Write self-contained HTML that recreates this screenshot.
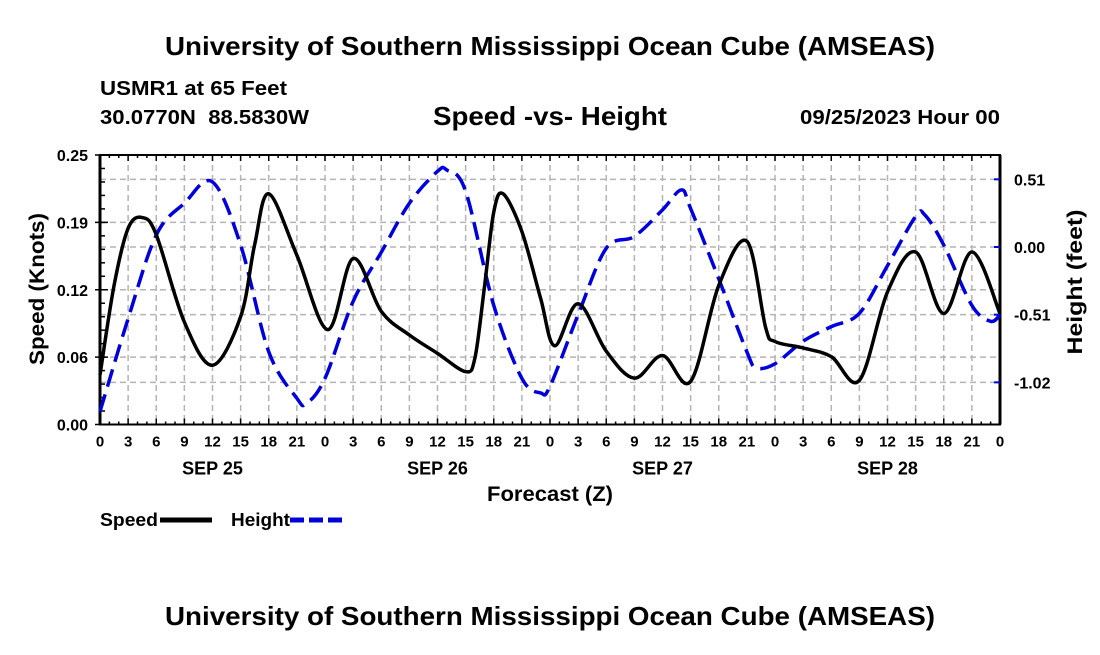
<!DOCTYPE html>
<html><head><meta charset="utf-8"><style>
body{margin:0;background:#fff;}
svg text{font-family:"Liberation Sans",Arial,sans-serif;font-weight:bold;fill:#000;}
</style></head><body>
<svg id="chart" width="1100" height="650" xmlns="http://www.w3.org/2000/svg">
<text x="165" y="55" font-size="26" textLength="770" lengthAdjust="spacingAndGlyphs">University of Southern Mississippi Ocean Cube (AMSEAS)</text>
<text x="100" y="95" font-size="20" textLength="187" lengthAdjust="spacingAndGlyphs">USMR1 at 65 Feet</text>
<text x="100" y="124" font-size="20" textLength="209" lengthAdjust="spacingAndGlyphs" xml:space="preserve">30.0770N  88.5830W</text>
<text x="433" y="125" font-size="26" textLength="234" lengthAdjust="spacingAndGlyphs">Speed -vs- Height</text>
<text x="800" y="124" font-size="20" textLength="200" lengthAdjust="spacingAndGlyphs">09/25/2023 Hour 00</text>
<g id="grid"></g><g id="axes"></g><g id="series"></g>
<text x="487" y="501" font-size="21" textLength="126" lengthAdjust="spacingAndGlyphs">Forecast (Z)</text>
<text transform="translate(44,289) rotate(-90)" font-size="21" text-anchor="middle" textLength="152" lengthAdjust="spacingAndGlyphs">Speed (Knots)</text>
<text transform="translate(1082,282) rotate(-90)" font-size="21" text-anchor="middle" textLength="145" lengthAdjust="spacingAndGlyphs">Height (feet)</text>
<g><text x="100" y="526" font-size="18" textLength="58" lengthAdjust="spacingAndGlyphs">Speed</text><line x1="160" y1="520" x2="212" y2="520" stroke="#000" stroke-width="5"/></g>
<g><text x="231" y="526" font-size="18" textLength="59" lengthAdjust="spacingAndGlyphs">Height</text><line x1="290" y1="520" x2="342" y2="520" stroke="#0000dd" stroke-width="5" stroke-dasharray="14,5"/></g>
<text x="165" y="625" font-size="26" textLength="770" lengthAdjust="spacingAndGlyphs">University of Southern Mississippi Ocean Cube (AMSEAS)</text>
</svg>
<script>
const speedHours=[0,1.5,3,4.5,6,9,12,15,16.5,18,21,24.3,27,30,33,36,39,40,41,42,43,45,47,48.5,51,54,57,60,63,66,69,71,72,75,78,81,84,87,90,93,96];
const speedValues=[0.046,0.129,0.182,0.192,0.176,0.095,0.055,0.10,0.167,0.214,0.157,0.088,0.154,0.105,0.083,0.066,0.049,0.062,0.127,0.197,0.214,0.179,0.117,0.073,0.112,0.068,0.043,0.064,0.040,0.129,0.170,0.09,0.077,0.071,0.063,0.041,0.123,0.160,0.103,0.160,0.103];
const heightHours=[0,3,6,9,12,15,18,21,22,24,27,30,33,36,37,39,42,45,47,48,51,54,57,60,62,63,66,69,70,72,75,78,81,84,87,88,90,93,95,96];
const heightValues=[-1.24,-0.54,0.09,0.33,0.49,0.015,-0.79,-1.14,-1.18,-0.99,-0.41,-0.04,0.33,0.57,0.58,0.42,-0.44,-0.99,-1.10,-1.05,-0.51,-0.01,0.08,0.28,0.43,0.29,-0.24,-0.79,-0.91,-0.88,-0.71,-0.60,-0.50,-0.14,0.23,0.24,0.015,-0.44,-0.56,-0.51];
const leftTicks=[0,0.0625,0.125,0.1875,0.25];
const leftTickLabels=["0.00","0.06","0.12","0.19","0.25"];
const rightTicks=[0.51,0,-0.51,-1.02];
const rightTickLabels=["0.51","0.00","-0.51","-1.02"];
const dayLabels=["SEP 25","SEP 26","SEP 27","SEP 28"];
const X0=100,X1=1000,YT=155,YB=424.5;
const xs=h=>X0+h*(X1-X0)/96;
const ys=v=>YB-v*(YB-YT)/0.25;
const yh=v=>247-v*132.7;
const NS='http://www.w3.org/2000/svg';
function mk(tag,parent,attrs){const e=document.createElementNS(NS,tag);for(const k in attrs)e.setAttribute(k,attrs[k]);document.getElementById(parent).appendChild(e);return e;}
for(let h=3;h<96;h+=3){const e=mk('line','grid',{x1:xs(h),x2:xs(h),y1:YT,y2:YB,stroke:'#b4b4b4','stroke-width':1.5,'stroke-dasharray':'6,4'});

}
leftTicks.slice(1,-1).forEach(v=>{const e=mk('line','grid',{x1:X0,x2:X1,y1:ys(v),y2:ys(v),stroke:'#b4b4b4','stroke-width':1.5,'stroke-dasharray':'6,4'});

});
rightTicks.forEach(v=>{const e=mk('line','grid',{x1:X0,x2:X1,y1:yh(v),y2:yh(v),stroke:'#b4b4b4','stroke-width':1.5,'stroke-dasharray':'6,4'});

});
const frame=mk('rect','axes',{x:X0,y:YT,width:X1-X0,height:YB-YT,fill:'none',stroke:'#000','stroke-width':2});


mk('line','axes',{x1:X0,x2:X0,y1:YT,y2:YB,stroke:'#000','stroke-width':3});
mk('line','axes',{x1:X1,x2:X1,y1:YT,y2:YB,stroke:'#000','stroke-width':3});
for(let h=0;h<=96;h++){const big=h%3==0;
mk('line','axes',{x1:xs(h),x2:xs(h),y1:YB,y2:YB-(big?6:3),stroke:'#000','stroke-width':1.5});
mk('line','axes',{x1:xs(h),x2:xs(h),y1:YT,y2:YT+(big?6:3),stroke:'#000','stroke-width':1.5});
if(big){const t=mk('text','axes',{x:xs(h),y:YB+22,'font-size':15,'text-anchor':'middle'});t.textContent=String(h%24);

}}
dayLabels.forEach((d,i)=>{const t=mk('text','axes',{x:xs(i*24+12),y:YB+50,'font-size':18,'text-anchor':'middle'});t.textContent=d;

});
for(let v=0;v<=0.25001;v+=0.0125){mk('line','axes',{x1:X0,x2:X0+5,y1:ys(v),y2:ys(v),stroke:'#000','stroke-width':1.5});}
leftTicks.forEach((v,i)=>{mk('line','axes',{x1:X0-5,x2:X0+8,y1:ys(v),y2:ys(v),stroke:'#000','stroke-width':1.5});
const t=mk('text','axes',{x:X0-12,y:ys(v)+6,'font-size':16,'text-anchor':'end'});t.textContent=leftTickLabels[i];

});
rightTicks.forEach((v,i)=>{mk('line','axes',{x1:X1-6,x2:X1,y1:yh(v),y2:yh(v),stroke:'#0000dd','stroke-width':2});
const t=mk('text','axes',{x:X1+14,y:yh(v)+6,'font-size':16});t.textContent=rightTickLabels[i];

});
function smooth(pts){let d='M'+pts[0][0]+','+pts[0][1];
for(let i=0;i<pts.length-1;i++){const p0=pts[Math.max(0,i-1)],p1=pts[i],p2=pts[i+1],p3=pts[Math.min(pts.length-1,i+2)];
const c1=[p1[0]+(p2[0]-p0[0])/6,p1[1]+(p2[1]-p0[1])/6],c2=[p2[0]-(p3[0]-p1[0])/6,p2[1]-(p3[1]-p1[1])/6];
d+=' C'+c1+' '+c2+' '+p2;}return d;}
const hp=mk('path','series',{d:smooth(heightHours.map((h,i)=>[xs(h),yh(heightValues[i])])),fill:'none',stroke:'#0000dd','stroke-width':3.5,'stroke-dasharray':'18,8'});


const sp=mk('path','series',{d:smooth(speedHours.map((h,i)=>[xs(h),ys(speedValues[i])])),fill:'none',stroke:'#000','stroke-width':3.5});


</script>
</body></html>
